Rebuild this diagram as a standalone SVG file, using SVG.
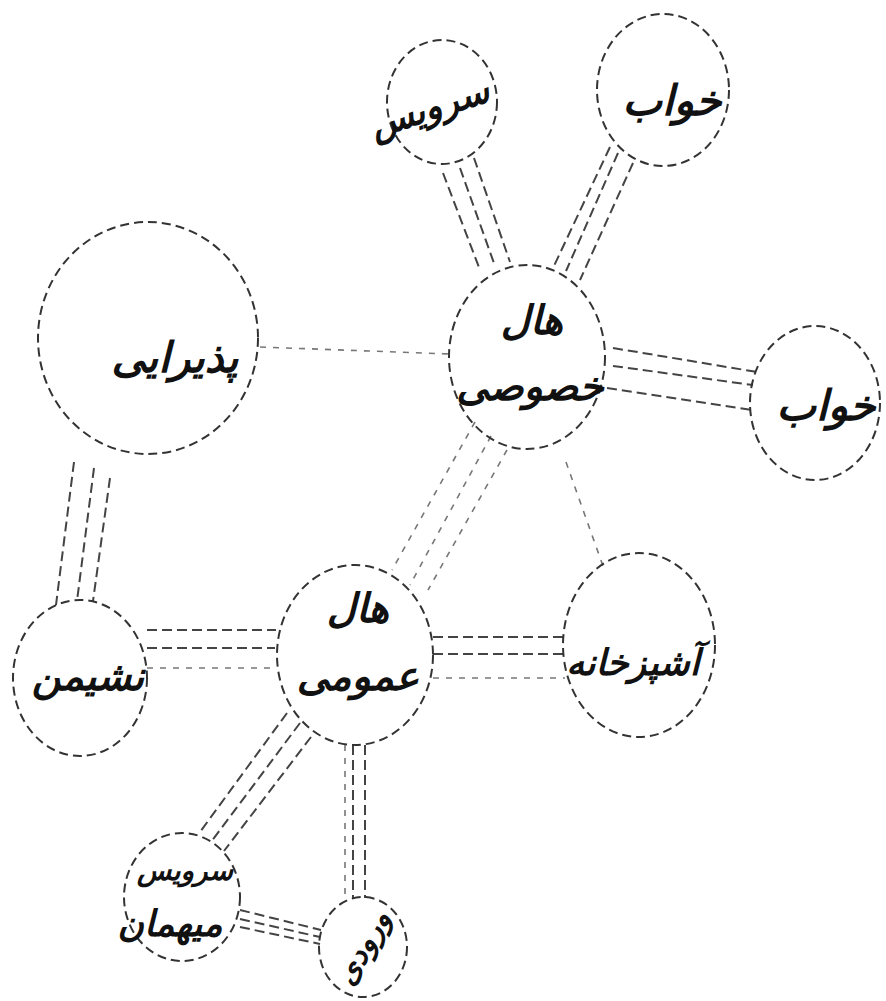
<svg xmlns="http://www.w3.org/2000/svg" width="886" height="1001" viewBox="0 0 886 1001">
<style>
.bub{fill:none;stroke:#333;stroke-width:2;stroke-dasharray:9 5}
.con{stroke:#444;stroke-width:2;stroke-dasharray:10 5;fill:none}
.faint{stroke:#777;stroke-width:1.6;stroke-dasharray:6 7;fill:none}
.lbl{font-family:"DejaVu Sans","Noto Sans",sans-serif;fill:#111;text-anchor:middle;font-style:italic;font-weight:bold}
</style>
<rect width="886" height="1001" fill="#fff"/>
<g id="connectors">
  <!-- servis - hall private -->
  <line class="con" x1="443" y1="173" x2="480" y2="270"/>
  <line class="con" x1="460" y1="168" x2="495" y2="266"/>
  <line class="con" x1="474" y1="158" x2="510" y2="262"/>
  <!-- khab top - hall private -->
  <line class="con" x1="610" y1="147" x2="553" y2="268"/>
  <line class="con" x1="618" y1="153" x2="566" y2="271"/>
  <line class="con" x1="633" y1="163" x2="580" y2="280"/>
  <!-- hall private - khab right -->
  <line class="con" x1="613" y1="348" x2="757" y2="372"/>
  <line class="con" x1="613" y1="366" x2="753" y2="385"/>
  <line class="con" x1="607" y1="388" x2="752" y2="410"/>
  <!-- pazirayi - hall private -->
  <line class="faint" x1="260" y1="347" x2="450" y2="354"/>
  <!-- hall private - hall public -->
  <line class="faint" x1="475" y1="422" x2="392" y2="570"/>
  <line class="faint" x1="491" y1="436" x2="410" y2="585"/>
  <line class="faint" x1="507" y1="450" x2="428" y2="590"/>
  <!-- hall private - ashpazkhaneh -->
  <line class="faint" x1="566" y1="462" x2="603" y2="566"/>
  <!-- pazirayi - neshiman -->
  <line class="con" x1="74" y1="462" x2="56" y2="605"/>
  <line class="con" x1="94" y1="468" x2="77" y2="601"/>
  <line class="con" x1="110" y1="478" x2="93" y2="601"/>
  <!-- neshiman - hall public -->
  <line class="con" x1="147" y1="630" x2="276" y2="630"/>
  <line class="con" x1="147" y1="648" x2="275" y2="648"/>
  <line class="faint" x1="147" y1="668" x2="276" y2="668"/>
  <!-- hall public - ashpazkhaneh -->
  <line class="con" x1="433" y1="637" x2="566" y2="637"/>
  <line class="con" x1="433" y1="654" x2="564" y2="654"/>
  <line class="faint" x1="433" y1="678" x2="565" y2="678"/>
  <!-- hall public - servis mehman -->
  <line class="con" x1="287" y1="713" x2="200" y2="832"/>
  <line class="con" x1="300" y1="723" x2="211" y2="842"/>
  <line class="con" x1="311" y1="737" x2="224" y2="851"/>
  <!-- hall public - vorudi -->
  <line class="faint" x1="345" y1="745" x2="345" y2="898"/>
  <line class="con" x1="353" y1="745" x2="353" y2="898"/>
  <line class="con" x1="365" y1="745" x2="365" y2="898"/>
  <!-- servis mehman - vorudi -->
  <line class="con" x1="240" y1="910" x2="321" y2="930"/>
  <line class="con" x1="240" y1="919" x2="320" y2="937"/>
  <line class="con" x1="240" y1="927" x2="320" y2="944"/>
</g>
<g id="n-servis">
  <ellipse class="bub" cx="442" cy="102" rx="55" ry="62"/>
  <text class="lbl" x="430" y="120" font-size="36" transform="rotate(-18 430 110)">سرویس</text>
</g>
<g id="n-khab-top">
  <ellipse class="bub" cx="663" cy="90" rx="66" ry="76"/>
  <text class="lbl" x="672" y="115" font-size="42">خواب</text>
</g>
<g id="n-hall-khosusi">
  <ellipse class="bub" cx="527" cy="357" rx="78" ry="92"/>
  <text class="lbl" x="532" y="334" font-size="40">هال</text>
  <text class="lbl" x="530" y="400" font-size="40">خصوصی</text>
</g>
<g id="n-khab-right">
  <ellipse class="bub" cx="815" cy="403" rx="65" ry="77"/>
  <text class="lbl" x="826" y="420" font-size="42">خواب</text>
</g>
<g id="n-pazirayi">
  <ellipse class="bub" cx="148" cy="338" rx="110" ry="116"/>
  <text class="lbl" x="175" y="372" font-size="42">پذیرایی</text>
</g>
<g id="n-neshiman">
  <ellipse class="bub" cx="80" cy="678" rx="67" ry="78"/>
  <text class="lbl" x="88" y="690" font-size="40">نشیمن</text>
</g>
<g id="n-hall-omumi">
  <ellipse class="bub" cx="355" cy="655" rx="78" ry="90"/>
  <text class="lbl" x="358" y="622" font-size="40">هال</text>
  <text class="lbl" x="358" y="690" font-size="40">عمومی</text>
</g>
<g id="n-ashpazkhaneh">
  <ellipse class="bub" cx="639" cy="645" rx="76" ry="92"/>
  <text class="lbl" x="633" y="675" font-size="36">آشپزخانه</text>
</g>
<g id="n-servis-mehman">
  <ellipse class="bub" cx="182" cy="897" rx="58" ry="64"/>
  <text class="lbl" x="185" y="880" font-size="28">سرویس</text>
  <text class="lbl" x="170" y="936" font-size="36">میهمان</text>
</g>
<g id="n-vorudi">
  <ellipse class="bub" cx="363" cy="947" rx="44" ry="50"/>
  <text class="lbl" x="362" y="958" font-size="30" transform="rotate(-60 362 947)">ورودی</text>
</g>
</svg>
